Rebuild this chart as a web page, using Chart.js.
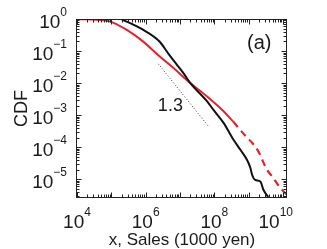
<!DOCTYPE html>
<html>
<head>
<meta charset="utf-8">
<script src="https://cdn.jsdelivr.net/npm/chart.js@4/dist/chart.umd.min.js"></script>
<style>
  html, body { margin: 0; padding: 0; background: #ffffff; }
  #c { display: block; }
</style>
</head>
<body>
<canvas id="c" width="327" height="249"></canvas>
<script>
// ---- data ----
const blackSales = [1.95e5, 8.32e5, 2.57e6, 4.57e6, 7.76e6, 1.26e7, 2.0e7, 6.17e7, 9.33e7, 1.86e8, 3.63e8, 5.75e8, 8.91e8, 1.12e9, 1.26e9, 1.55e9, 2.19e9, 2.69e9, 3.72e9];
const blackCdf   = [1.0, 0.463, 0.195, 0.0832, 0.0398, 0.0204, 0.0100, 0.00269, 0.00148, 5.75e-4, 1.70e-4, 8.3e-5, 4.07e-5, 2.29e-5, 1.38e-5, 9.5e-6, 8.5e-6, 4.7e-6, 2.8e-6];

const redSales = [1.0e4, 3.63e4, 8.91e4, 2.75e5, 8.32e5, 2.57e6, 6.46e6, 2.0e7, 6.17e7, 1.86e8, 3.55e8];
const redCdf   = [0.977, 0.955, 0.841, 0.463, 0.200, 0.0676, 0.0295, 0.0100, 0.00380, 0.00132, 6.3e-4];

const redTailSales = [3.55e8, 8.91e8, 1.26e9, 1.91e9, 3.39e9, 4.79e9, 8.32e9, 1.29e10];
const redTailCdf   = [6.3e-4, 2.0e-4, 1.38e-4, 7.4e-5, 2.0e-5, 1.23e-5, 5.4e-6, 3.3e-6];

const slopeSales = [2.34e6, 6.76e7];
const slopeCdf   = [0.0398, 4.47e-4];

const xTickValues = [1e4, 1e6, 1e8, 1e10];
const xTickExps   = ['4', '6', '8', '10'];
const yTickValues = [1, 1e-1, 1e-2, 1e-3, 1e-4, 1e-5];
const yTickExps   = ['0', '\u22121', '\u22122', '\u22123', '\u22124', '\u22125'];

const xRange = [1e4, 1.31e10];
const yRange = [2.6e-6, 1];

const slopeText = '1.3';
const slopeTextAt = [5.25e6, 1.9e-3];
const panelText = '(a)';
const panelTextAt = [2.04e9, 0.17];

// ---- helpers ----
const FONT = '"Liberation Sans", Arial, Helvetica, sans-serif';
const INK = '#1a1a1a';
const RED = '#e8202a';
function pts(xs, ys) { return xs.map((v, i) => ({ x: v, y: ys[i] })); }

const decorPlugin = {
  id: 'decor',
  afterDraw(chart) {
    const { ctx, chartArea: a, scales: { x, y } } = chart;
    ctx.save();
    ctx.strokeStyle = '#222';
    ctx.lineWidth = 1;
    const L = Math.round(a.left) - 0.5, R = Math.round(a.right) - 0.5;
    const T = Math.round(a.top) + 0.5, B = Math.round(a.bottom) - 0.5;
    ctx.strokeRect(L, T, R - L, B - T);

    // inward tick marks on all four sides
    ctx.beginPath();
    for (let e = Math.floor(Math.log10(xRange[0])); e <= Math.ceil(Math.log10(xRange[1])); e++) {
      for (let m = 1; m <= 9; m++) {
        const v = m * Math.pow(10, e);
        if (v < xRange[0] || v > xRange[1]) continue;
        const p = Math.round(x.getPixelForValue(v)) + 0.5;
        const len = m === 1 ? 5 : 3;
        ctx.moveTo(p, B); ctx.lineTo(p, B - len);
        ctx.moveTo(p, T); ctx.lineTo(p, T + len);
      }
    }
    for (let e = Math.floor(Math.log10(yRange[0])); e <= Math.ceil(Math.log10(yRange[1])); e++) {
      for (let m = 1; m <= 9; m++) {
        const v = m * Math.pow(10, e);
        if (v < yRange[0] || v > yRange[1]) continue;
        const p = Math.round(y.getPixelForValue(v)) + 0.5;
        const len = m === 1 ? 5 : 3;
        ctx.moveTo(L, p); ctx.lineTo(L + len, p);
        ctx.moveTo(R, p); ctx.lineTo(R - len, p);
      }
    }
    ctx.stroke();

    // tick labels: 10 with superscript exponent
    ctx.fillStyle = INK;
    ctx.textBaseline = 'alphabetic';
    ctx.textAlign = 'left';
    const baseFont = '19px ' + FONT, expFont = '12px ' + FONT;
    function measure(exp) {
      ctx.font = baseFont; const wb = ctx.measureText('10').width;
      ctx.font = expFont; const we = ctx.measureText(exp).width;
      return [wb, we];
    }
    function drawLabel(left, baseline, exp, wb) {
      ctx.font = baseFont; ctx.fillText('10', left, baseline);
      ctx.font = expFont; ctx.fillText(exp, left + wb, baseline - 12);
    }
    xTickValues.forEach((v, i) => {
      const px = x.getPixelForValue(v);
      const [wb, we] = measure(xTickExps[i]);
      let left = px - (wb + we) / 2;
      if (left + wb + we > a.right + 6) left = a.right + 6 - wb - we;
      drawLabel(left, a.bottom + 30, xTickExps[i], wb);
    });
    yTickValues.forEach((v, i) => {
      const py = y.getPixelForValue(v);
      const [wb, we] = measure(yTickExps[i]);
      const right = a.left - 10;
      const wExp = Math.max(we, measure('0')[1]);
      drawLabel(right - wb - wExp, py + 9, yTickExps[i], wb);
    });

    // annotations
    ctx.textAlign = 'center';
    ctx.textBaseline = 'middle';
    ctx.font = '18px ' + FONT;
    ctx.fillText(slopeText, x.getPixelForValue(slopeTextAt[0]), y.getPixelForValue(slopeTextAt[1]));
    ctx.font = '20px ' + FONT;
    ctx.fillText(panelText, x.getPixelForValue(panelTextAt[0]), y.getPixelForValue(panelTextAt[1]));
    ctx.restore();
  }
};

new Chart(document.getElementById('c'), {
  type: 'line',
  data: {
    datasets: [
      { label: 'slope 1.3', data: pts(slopeSales, slopeCdf), borderColor: '#333', borderWidth: 1,
        borderDash: [1, 2], pointRadius: 0, tension: 0, clip: 0 },
      { label: 'black', data: pts(blackSales, blackCdf), borderColor: '#111', borderWidth: 2,
        pointRadius: 0, cubicInterpolationMode: 'monotone', clip: 0 },
      { label: 'red', data: pts(redSales, redCdf), borderColor: RED, borderWidth: 2,
        pointRadius: 0, cubicInterpolationMode: 'monotone', clip: 0 },
      { label: 'red tail', data: pts(redTailSales, redTailCdf), borderColor: RED, borderWidth: 2.2,
        borderDash: [7, 5], pointRadius: 0, cubicInterpolationMode: 'monotone', clip: 0 }
    ]
  },
  options: {
    responsive: false,
    animation: false,
    devicePixelRatio: 1,
    layout: { padding: { left: 0, top: 19, right: 40, bottom: 0 } },
    plugins: { legend: { display: false }, tooltip: { enabled: false } },
    scales: {
      x: {
        type: 'logarithmic', position: 'bottom', min: xRange[0], max: xRange[1],
        grid: { display: false, drawTicks: false }, border: { display: false },
        ticks: { display: false },
        title: { display: true, text: 'x, Sales (1000 yen)', color: INK,
                 font: { family: FONT, size: 17, lineHeight: 1 }, padding: { top: 0, bottom: 0 } },
        afterFit(s) { s.height = 51; }
      },
      y: {
        type: 'logarithmic', position: 'left', min: yRange[0], max: yRange[1],
        grid: { display: false, drawTicks: false }, border: { display: false },
        ticks: { display: false },
        title: { display: true, text: 'CDF', color: INK,
                 font: { family: FONT, size: 18, lineHeight: 1 }, padding: { top: 13, bottom: 0 } },
        afterFit(s) { s.width = 77; }
      }
    }
  },
  plugins: [decorPlugin]
});
</script>
</body>
</html>
